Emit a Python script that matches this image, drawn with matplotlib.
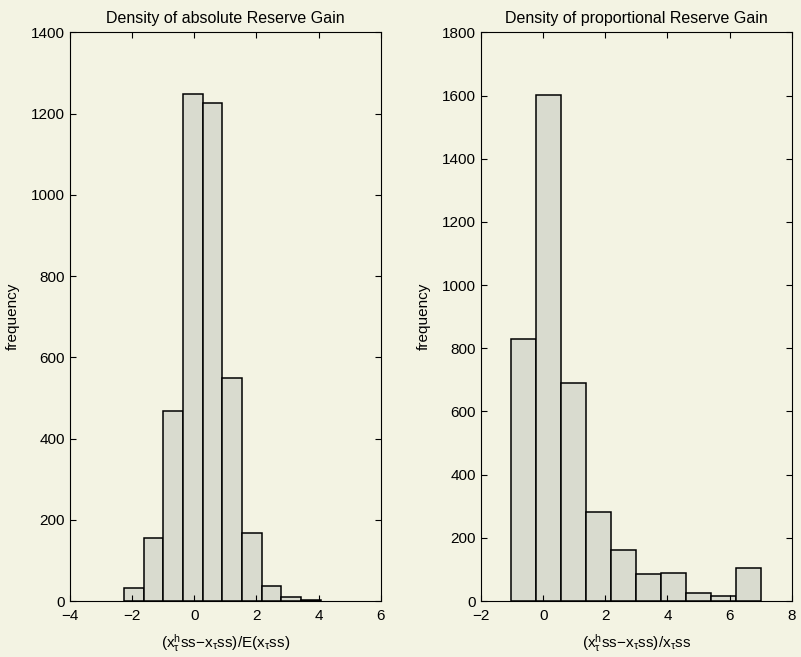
import numpy as np
from matplotlib import pyplot as plt

# left histogram: absolute reserve gain
abs_edges_lo = -2.26
abs_bin_width = 0.633
abs_counts = [31, 154, 468, 1247, 1225, 548, 168, 37, 11, 3]

# right histogram: proportional reserve gain
prop_edges_lo = -1.035
prop_bin_width = 0.803
prop_counts = [828, 1603, 691, 283, 160, 85, 90, 24, 16, 104]

BG = '#f3f3e3'
BAR = '#d9dbcf'

plt.rcParams['font.family'] = ['Liberation Sans', 'DejaVu Sans']
plt.rcParams['mathtext.fontset'] = 'custom'
plt.rcParams['mathtext.rm'] = 'Liberation Sans'
plt.rcParams['mathtext.it'] = 'Liberation Sans'
plt.rcParams['mathtext.default'] = 'regular'


def draw_hist(ax, lo, width, counts, xlim, ylim, xticks, yticks, title, xlabel):
    lefts = lo + width * np.arange(len(counts))
    ax.bar(lefts, counts, width=width, align='edge', color=BAR,
           edgecolor='black', linewidth=1.1)
    ax.set_xlim(*xlim)
    ax.set_ylim(*ylim)
    ax.set_xticks(xticks)
    ax.set_yticks(yticks)
    ax.set_facecolor(BG)
    ax.tick_params(direction='in', top=True, right=True, length=4,
                   labelsize=11, width=0.8)
    ax.tick_params(axis='x', pad=6)
    for s in ax.spines.values():
        s.set_linewidth(0.8)
    ax.set_title(title, fontsize=11.5, pad=7)
    ax.set_xlabel(xlabel, fontsize=11, labelpad=6)
    ax.set_ylabel('frequency', fontsize=11, labelpad=8)


fig = plt.figure(figsize=(8.01, 6.57), dpi=100)
fig.patch.set_facecolor(BG)

ax1 = fig.add_axes([0.0874, 0.0852, 0.388, 0.8656])
ax2 = fig.add_axes([0.6005, 0.0852, 0.388, 0.8656])

draw_hist(ax1, abs_edges_lo, abs_bin_width, abs_counts, (-4, 6), (0, 1400),
          [-4, -2, 0, 2, 4, 6], range(0, 1401, 200),
          'Density of absolute Reserve Gain',
          r'$(x^{h}_{\tau}ss{-}x_{\tau}ss)/E(x_{\tau}ss)$')
draw_hist(ax2, prop_edges_lo, prop_bin_width, prop_counts, (-2, 8), (0, 1800),
          [-2, 0, 2, 4, 6, 8], range(0, 1801, 200),
          'Density of proportional Reserve Gain',
          r'$(x^{h}_{\tau}ss{-}x_{\tau}ss)/x_{\tau}ss$')

plt.savefig('out.png', dpi=100, facecolor=BG)
